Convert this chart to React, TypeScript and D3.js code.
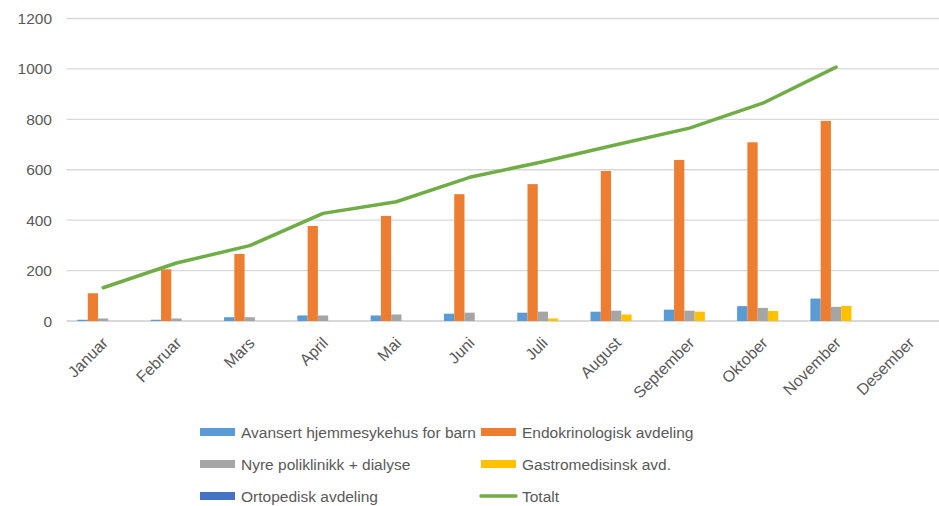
import { useMemo } from "react";
import { scaleBand, scaleLinear, line } from "d3";

const months = [
  "Januar", "Februar", "Mars", "April", "Mai", "Juni",
  "Juli", "August", "September", "Oktober", "November", "Desember",
];

const avansert = [5, 5, 15, 22, 22, 29, 33, 37, 45, 59, 89, null];
const endokrin = [110, 205, 266, 377, 417, 503, 543, 595, 639, 709, 794, null];
const nyre = [10, 10, 15, 22, 26, 33, 37, 41, 41, 52, 56, null];
const gastro = [0, 0, 0, 0, 0, 0, 10, 26, 37, 40, 60, null];
const ortopedisk = [0, 0, 0, 0, 0, 0, 0, 0, 0, 0, 0, null];
const totalt = [132, 230, 299, 427, 473, 570, 632, 699, 765, 864, 1007, null];

const yTicks = [0, 200, 400, 600, 800, 1000, 1200];

const barSeries = [
  { name: "Avansert hjemmesykehus for barn", values: avansert, color: "#5B9BD5" },
  { name: "Endokrinologisk avdeling", values: endokrin, color: "#ED7D31" },
  { name: "Nyre poliklinikk + dialyse", values: nyre, color: "#A5A5A5" },
  { name: "Gastromedisinsk avd.", values: gastro, color: "#FFC000" },
  { name: "Ortopedisk avdeling", values: ortopedisk, color: "#4472C4" },
];

const W = 939;
const H = 506;
const left = 66.5;
const right = 946;
const top = 18.5;
const bottom = 321;
const font = "'Liberation Sans', Arial, sans-serif";
const textColor = "#595959";

export default function App() {
  const x = useMemo(
    () => scaleBand<string>().domain(months).range([left, right]).paddingInner(0.3).paddingOuter(0.15),
    []
  );
  const y = useMemo(() => scaleLinear().domain([0, 1200]).range([bottom, top]), []);
  const sub = useMemo(
    () => scaleBand<string>().domain(barSeries.map((s) => s.name)).range([0, x.bandwidth()]),
    [x]
  );

  const totalLine = line<number | null>()
    .defined((d) => d != null)
    .x((_, i) => x(months[i])! + x.bandwidth() / 2)
    .y((d) => y(d as number));

  const legend = [
    { ...barSeries[0], col: 0, row: 0 },
    { ...barSeries[1], col: 1, row: 0 },
    { ...barSeries[2], col: 0, row: 1 },
    { ...barSeries[3], col: 1, row: 1 },
    { ...barSeries[4], col: 0, row: 2 },
    { name: "Totalt", color: "#70AD47", col: 1, row: 2, isLine: true },
  ];
  const legX = [200, 481];
  const legY = [432, 464, 496];

  return (
    <svg
      width={W}
      height={H}
      style={{ position: "absolute", left: 0, top: 0, background: "#fff" }}
      fontFamily={font}
    >
      {/* grid */}
      {yTicks.map((t) => (
        <g key={t}>
          <line
            x1={left}
            x2={W}
            y1={y(t)}
            y2={y(t)}
            stroke="#D9D9D9"
            strokeWidth={t === 0 ? 2 : 1.3}
          />
          <text x={52} y={y(t)} dy="0.36em" textAnchor="end" fontSize={15.5} fill={textColor}>
            {t}
          </text>
        </g>
      ))}

      {/* bars */}
      {barSeries.map((s) =>
        s.values.map((v, i) =>
          v == null || v === 0 ? null : (
            <rect
              key={s.name + i}
              x={x(months[i])! + sub(s.name)!}
              y={y(v)}
              width={sub.bandwidth()}
              height={y(0) - y(v)}
              fill={s.color}
            />
          )
        )
      )}

      {/* total line */}
      <path
        d={totalLine(totalt)!}
        fill="none"
        stroke="#70AD47"
        strokeWidth={3.5}
        strokeLinejoin="round"
        strokeLinecap="round"
      />

      {/* x labels */}
      {months.map((m) => (
        <text
          key={m}
          transform={`translate(${x(m)! + x.bandwidth() / 2 + 2},${340}) rotate(-45)`}
          textAnchor="end"
          dy="0.35em"
          fontSize={16}
          fill={textColor}
        >
          {m}
        </text>
      ))}

      {/* legend */}
      {legend.map((l) => (
        <g key={l.name} transform={`translate(${legX[l.col]},${legY[l.row]})`}>
          {"isLine" in l ? (
            <line x1={0} x2={35} y1={0} y2={0} stroke={l.color} strokeWidth={3.5} strokeLinecap="round" />
          ) : (
            <rect x={0} y={-4} width={35} height={8} fill={l.color} />
          )}
          <text x={41} y={0} dy="0.36em" fontSize={15.5} fill={textColor}>
            {l.name}
          </text>
        </g>
      ))}
    </svg>
  );
}
